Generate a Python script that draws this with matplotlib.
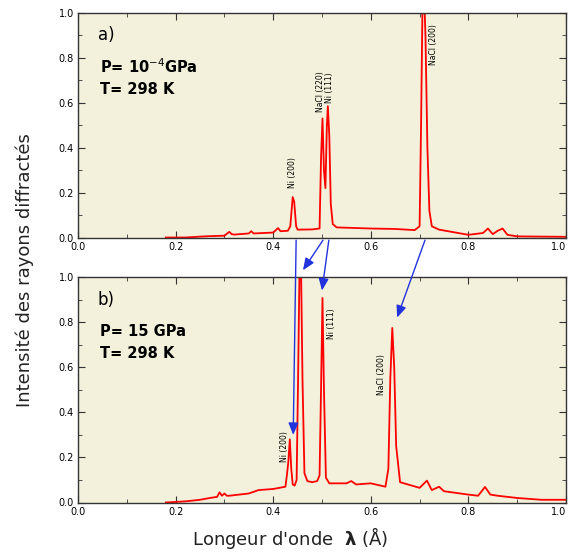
import matplotlib
matplotlib.use("Agg")
import matplotlib.pyplot as plt
from matplotlib.patches import ConnectionPatch
from matplotlib.ticker import MultipleLocator

# ---- data ----
x_a = [0.18, 0.22, 0.25, 0.27, 0.30, 0.31, 0.315, 0.32, 0.35, 0.355, 0.36, 0.40, 0.41, 0.415,
       0.43, 0.435, 0.44, 0.443, 0.447, 0.45, 0.48, 0.495, 0.498, 0.501, 0.504, 0.507, 0.510,
       0.512, 0.515, 0.518, 0.522, 0.53, 0.60, 0.65, 0.69, 0.70, 0.703, 0.706, 0.709, 0.712,
       0.716, 0.72, 0.725, 0.74, 0.80, 0.83, 0.84, 0.85, 0.86, 0.87, 0.88, 0.90, 0.95, 1.0]
y_a = [0.0, 0.0, 0.004, 0.006, 0.008, 0.025, 0.015, 0.013, 0.018, 0.028, 0.018, 0.022, 0.042, 0.028,
       0.030, 0.05, 0.18, 0.16, 0.05, 0.035, 0.036, 0.04, 0.35, 0.53, 0.30, 0.22, 0.50,
       0.585, 0.45, 0.15, 0.06, 0.045, 0.04, 0.038, 0.033, 0.05, 0.5, 1.05, 1.1, 0.9,
       0.4, 0.12, 0.05, 0.035, 0.012, 0.02, 0.04, 0.015, 0.03, 0.04, 0.012, 0.005, 0.004, 0.003]

x_b = [0.18, 0.22, 0.25, 0.27, 0.285, 0.29, 0.295, 0.30, 0.305, 0.31, 0.35, 0.37, 0.40, 0.425,
       0.428, 0.431, 0.434, 0.437, 0.440, 0.444, 0.448, 0.451, 0.454, 0.457, 0.460, 0.464,
       0.47, 0.48, 0.49, 0.495, 0.498, 0.501, 0.504, 0.508, 0.515, 0.55, 0.56, 0.57, 0.60,
       0.63, 0.636, 0.64, 0.644, 0.648, 0.652, 0.66, 0.70, 0.715, 0.725, 0.74, 0.75, 0.80,
       0.82, 0.834, 0.845, 0.86, 0.90, 0.95, 1.0]
y_b = [0.0, 0.005, 0.012, 0.02, 0.025, 0.045, 0.03, 0.04, 0.03, 0.03, 0.04, 0.055, 0.06, 0.07,
       0.12, 0.18, 0.28, 0.15, 0.08, 0.075, 0.10, 0.55, 1.05, 1.05, 0.55, 0.13,
       0.095, 0.09, 0.095, 0.12, 0.5, 0.907, 0.5, 0.11, 0.085, 0.085, 0.095, 0.08, 0.085,
       0.07, 0.15, 0.55, 0.774, 0.6, 0.25, 0.09, 0.065, 0.097, 0.055, 0.07, 0.05, 0.035,
       0.03, 0.069, 0.035, 0.03, 0.02, 0.012, 0.012]

xticks = [0.0, 0.2, 0.4, 0.6, 0.8, 1.0]
yticks = [0.0, 0.2, 0.4, 0.6, 0.8, 1.0]

labels_a = [("Ni (200)", 0.44, 0.22, "bottom"), ("NaCl (220)", 0.497, 0.56, "bottom"),
            ("Ni (111)", 0.516, 0.60, "bottom"), ("NaCl (200)", 0.728, 0.95, "top")]
labels_b = [("Ni (200)", 0.423, 0.18, "bottom"), ("Ni (111)", 0.52, 0.86, "top"),
            ("NaCl (200)", 0.622, 0.66, "top")]

bg = "#f3f1db"
W, H = 572, 558
fig = plt.figure(figsize=(W / 100, H / 100), dpi=100)
ax_a = fig.add_axes([78 / W, 1 - 237.5 / H, 488 / W, 224.5 / H])
ax_b = fig.add_axes([78 / W, 1 - 502.5 / H, 488 / W, 225.5 / H])

for ax, x, y, labs in [(ax_a, x_a, y_a, labels_a), (ax_b, x_b, y_b, labels_b)]:
    ax.set_facecolor(bg)
    ax.plot(x, y, color="#ff0000", lw=1.3)
    ax.set_xlim(0, 1)
    ax.set_ylim(0, 1)
    ax.set_xticks(xticks)
    ax.set_yticks(yticks)
    ax.xaxis.set_minor_locator(MultipleLocator(0.1))
    ax.yaxis.set_minor_locator(MultipleLocator(0.1))
    ax.set_xticklabels([f"{t:.1f}" for t in xticks])
    ax.set_yticklabels([f"{t:.1f}" for t in yticks])
    ax.tick_params(which="both", direction="in", top=True, right=True, labelsize=7,
                   color="#333333", pad=3)
    ax.tick_params(which="major", length=5)
    ax.tick_params(which="minor", length=3)
    for s in ax.spines.values():
        s.set_linewidth(1.0)
        s.set_color("#333333")
    for txt, tx, ty, va in labs:
        ax.text(tx, ty, txt, rotation=90, fontsize=5.5, ha="center", va=va)
    # keep the last x tick label inside the canvas
    ax.get_xticklabels()[-1].set_horizontalalignment("right")
    ax.get_xticklabels()[-1].set_x(1.0)

fig.canvas.draw()
for ax in (ax_a, ax_b):
    lab = ax.get_xticklabels()[-1]
    lab.set_horizontalalignment("right")

ax_a.text(0.04, 0.90, "a)", fontsize=12, transform=ax_a.transAxes, va="center")
ax_a.text(0.045, 0.76, "P= 10$^{-4}$GPa", fontsize=10.5, fontweight="bold",
          transform=ax_a.transAxes, va="center")
ax_a.text(0.045, 0.66, "T= 298 K", fontsize=10.5, fontweight="bold",
          transform=ax_a.transAxes, va="center")
ax_b.text(0.04, 0.90, "b)", fontsize=12, transform=ax_b.transAxes, va="center")
ax_b.text(0.045, 0.76, "P= 15 GPa", fontsize=10.5, fontweight="bold",
          transform=ax_b.transAxes, va="center")
ax_b.text(0.045, 0.66, "T= 298 K", fontsize=10.5, fontweight="bold",
          transform=ax_b.transAxes, va="center")

# arrows linking peaks between the two panels
arrows = [((0.447, -0.012), (0.441, 0.30)),
          ((0.502, -0.012), (0.461, 1.03)),
          ((0.514, -0.012), (0.500, 0.94)),
          ((0.711, -0.012), (0.654, 0.82))]
for (xa, ya), (xb, yb) in arrows:
    cp = ConnectionPatch(xyA=(xa, ya), coordsA=ax_a.transData,
                         xyB=(xb, yb), coordsB=ax_b.transData,
                         arrowstyle="-|>,head_length=0.6,head_width=0.25",
                         color="#2233dd", lw=1.0, mutation_scale=12, clip_on=False)
    fig.add_artist(cp)

fig.text(25 / W, 1 - 270 / H, "Intensité des rayons diffractés", rotation=90,
         fontsize=13, ha="center", va="center", color="#222222")
fig.text(290 / W, 1 - 538 / H, "Longeur d'onde  $\\mathbf{\\lambda}$ (Å)", fontsize=13,
         ha="center", va="center", color="#222222")

fig.savefig("out.png", dpi=100)
